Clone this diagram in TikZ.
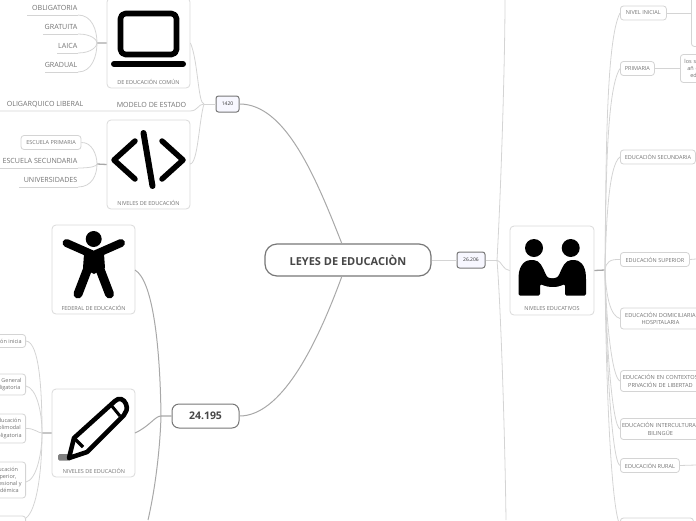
\documentclass[tikz,border=0pt]{standalone}
\usepackage{fontspec}
\setmainfont{Open Sans}
\definecolor{txt}{HTML}{727272}
\definecolor{lin}{HTML}{D4D4D4}
\definecolor{mid}{HTML}{A8A8A8}
\definecolor{edge}{HTML}{777777}
\tikzset{
 conn/.style={draw=lin,line width=.8pt},
 connm/.style={draw=mid,line width=1pt},
 conng/.style={draw=mid,line width=1.3pt},
 card/.style={draw=lin!85,line width=.8pt,rounded corners=4pt,fill=white,inner sep=0},
 leaf/.style={draw=lin,line width=.8pt,rounded corners=3pt,fill=white,inner sep=0,align=center,font=\fontsize{5.5}{7.2}\selectfont,text=txt},
 wideleaf/.style={leaf,anchor=west,text width=80pt,minimum height=21pt,font=\fontsize{5.6}{7.2}\selectfont},
 cutleaf/.style={leaf,inner xsep=4pt,anchor=east},
 plain/.style={inner sep=0,font=\fontsize{7.1}{8}\selectfont,text=txt},
 caplabel/.style={inner sep=0,font=\fontsize{5.5}{6}\selectfont,text=txt},
 topic/.style={draw=edge,line width=1pt,rounded corners=2.5pt,fill=blue!3,inner sep=0,font=\fontsize{5}{6}\selectfont,text=black!80},
 icon/.style={line width=5.6pt,line cap=round,line join=round,draw=black},
}
\begin{document}
\begin{tikzpicture}[x=1pt,y=-1pt]
\useasboundingbox (0,0) rectangle (696,520);
\clip (0,0) rectangle (696,520);
% coordinates
\coordinate (j1420) at (204,104);
\coordinate (jL1) at (97,43);
\coordinate (jL2) at (97,164);
\coordinate (j24) at (161,416);
\coordinate (jL3) at (42,433);
\coordinate (j26) at (497,260);
\coordinate (jR) at (605,270);
\coordinate (u1) at (27,15);\coordinate (u1b) at (78,15);
\coordinate (u2) at (43,34);\coordinate (u2b) at (78,34);
\coordinate (u3) at (57,53);\coordinate (u3b) at (78,53);
\coordinate (u4) at (45,72);\coordinate (u4b) at (78,72);
\coordinate (u5) at (0,168);\coordinate (u5b) at (78,168);
\coordinate (u6) at (19,187);\coordinate (u6b) at (78,187);
\coordinate (u7) at (0,111);\coordinate (u7b) at (190,111);
\coordinate (topend) at (505,0);
\coordinate (botend) at (506,520);
\coordinate (botL) at (148,520);
\coordinate (rs) at (696,259);
\coordinate (rr) at (696,465);
% cards
\node[card,minimum width=83pt,minimum height=90pt] (c1) at (148.5,43) {};
\node[card,minimum width=83pt,minimum height=89pt] (c2) at (148.5,164.5) {};
\node[card,minimum width=83pt,minimum height=89pt] (c3) at (93.5,269.5) {};
\node[card,minimum width=83pt,minimum height=88pt] (c4) at (93.5,433) {};
\node[card,minimum width=84pt,minimum height=89pt] (c5) at (552,270.5) {};
\node[caplabel] (c1l) at (148.5,82) {DE EDUCACIÓN COMÚN};
\node[caplabel] (c2l) at (148.5,203) {NIVELES DE EDUCACIÓN};
\node[caplabel] (c3l) at (93.5,308) {FEDERAL DE EDUCACIÓN};
\node[caplabel] (c4l) at (94,471) {NIVELES DE EDUCACIÓN};
\node[caplabel] (c5l) at (552,309) {NIVELES EDUCATIVOS};
% main
\node[draw=edge,line width=1.2pt,rounded corners=12pt,fill=white,minimum width=166pt,minimum height=32pt,inner sep=0,font=\fontsize{11}{12}\bfseries\selectfont,text=black!72] (main) at (348,260) {LEYES DE EDUCACIÒN};
\node[draw=edge,line width=1pt,rounded corners=7pt,fill=white,minimum width=67pt,minimum height=24pt,inner sep=0,font=\fontsize{10.5}{12}\bfseries\selectfont,text=black!72] (t24) at (205.5,416) {24.195};
\node[topic,minimum width=23pt,minimum height=16pt] (t14) at (227.5,104) {1420};
\node[topic,minimum width=28pt,minimum height=16pt] (t26) at (471,260) {26.206};
% plain texts
\node[plain,anchor=east] (o1) at (77.5,7.5) {OBLIGATORIA};
\node[plain,anchor=east] (o2) at (77.5,26.5) {GRATUITA};
\node[plain,anchor=east] (o3) at (77.5,45.5) {LAICA};
\node[plain,anchor=east] (o4) at (77.5,64.5) {GRADUAL};
\node[plain] (m1) at (151.5,104.5) {MODELO DE ESTADO};
\node[plain] (m2) at (45,104.5) {OLIGARQUICO LIBERAL};
\node[plain,anchor=east] (e2) at (77.5,160.5) {ESCUELA SECUNDARIA};
\node[plain,anchor=east] (e3) at (77.5,179.5) {UNIVERSIDADES};
\node[leaf,minimum width=60pt,minimum height=14pt] (e1) at (51,142.5) {ESCUELA PRIMARIA};
% left lower leaves
\node[cutleaf,minimum height=13pt] (l1) at (26,341) {Educación inicia};
\node[cutleaf,minimum height=21pt] (l2) at (26,384.5) {Educación General\\Básica obligatoria};
\node[cutleaf,minimum height=29pt] (l3) at (26,428.5) {Educación\\Polimodal\\obligatoria};
\node[cutleaf,minimum height=36pt] (l4) at (26,480) {Educación\\superior,\\profesional y\\académica};
\node[leaf,minimum width=60pt,minimum height=20pt,anchor=east] (l5) at (26,526) {};
% right leaves
\node[leaf,anchor=west,minimum width=46pt,minimum height=14pt] (r1) at (620,13) {NIVEL INICIAL};
\node[leaf,anchor=west,minimum width=34pt,minimum height=14pt] (r2) at (620,68.5) {PRIMARIA};
\node[leaf,anchor=west,minimum width=75pt,minimum height=14pt] (r3) at (620,157) {EDUCACIÓN SECUNDARIA};
\node[leaf,anchor=west,minimum width=69pt,minimum height=14pt] (r4) at (620,259.5) {EDUCACIÓN SUPERIOR};
\node[wideleaf] (r5) at (620,318.5) {EDUCACIÓN DOMICILIARIA\\HOSPITALARIA};
\node[wideleaf] (r6) at (620,381) {EDUCACIÓN EN CONTEXTOS\\PRIVACIÓN DE LIBERTAD};
\node[wideleaf] (r7) at (620,429) {EDUCACIÓN INTERCULTURAL\\BILINGÜE};
\node[leaf,anchor=west,minimum width=59pt,minimum height=14pt] (r8) at (620,465.5) {EDUCACIÓN RURAL};
\node[leaf,anchor=west,minimum width=73pt,minimum height=14pt] (r9) at (620,525) {};
\node[leaf,anchor=west,minimum width=40pt,minimum height=55pt] (n1) at (691,19) {};
\node[leaf,anchor=west,minimum width=40pt,minimum height=28pt,align=left,text width=40pt] (n2) at (680,68.5) {\hspace*{4pt}los s\\\hspace*{7pt}añ c\\\hspace*{10pt}ed};
% connectors
\path[conng] (jL1) -- (c1.west) (jL2) -- (c2.west) (jL3) -- (c4.west) (j24) -- (t24.west);
\path[conng] (c5.east) -- (jR);
\path[conn] (t14.west) -- (j1420);
\path[conn] (j1420) .. controls (198,104) and (198,60) .. (c1.east |- 0,43);
\path[conn] (j1420) .. controls (199,120) and (198,164) .. (190,164);
\path[conn] (j1420) .. controls (198,104) and (198,111) .. (u7b) -- (u7);
\path[connm] (t14.east) .. controls (285,104) and (315,175) .. (342,244);
\path[connm] (t24.east) .. controls (280,416) and (315,350) .. (342,276);
\path[conn] (main.east) -- (t26.west);
\path[conn] (t26.east) -- (j26);
\path[conn] (j26) .. controls (502,262) and (503,270) .. (c5.west);
\path[conn] (j26) .. controls (501,190) and (505,60) .. (topend);
\path[conn] (j26) .. controls (501,310) and (505,440) .. (botend);
\path[connm] (j24) .. controls (155,416) and (150,426) .. (135,433);
\path[connm] (j24) .. controls (160,340) and (152,280) .. (135,270);
\path[connm] (j24) .. controls (160,450) and (155,490) .. (botL);
\foreach \a/\b in {u1b/u1,u2b/u2,u3b/u3,u4b/u4,u5b/u5,u6b/u6}{\path[conn] (\a) -- (\b);}
\path[conn] (jL1) .. controls (97,30) and (92,15) .. (u1b);
\path[conn] (jL1) .. controls (97,40) and (92,34) .. (u2b);
\path[conn] (jL1) .. controls (97,46) and (92,53) .. (u3b);
\path[conn] (jL1) .. controls (97,56) and (92,72) .. (u4b);
\path[conn] (jL2) .. controls (97,155) and (92,142) .. (e1.east);
\path[conn] (jL2) .. controls (97,166) and (92,168) .. (u5b);
\path[conn] (jL2) .. controls (97,175) and (92,187) .. (u6b);
\path[conn] (jL3) .. controls (42,395) and (40,342) .. (l1.east);
\path[conn] (jL3) .. controls (42,410) and (36,388) .. (26,386);
\path[conn] (jL3) .. controls (38,433) and (34,428) .. (l3.east);
\path[conn] (jL3) .. controls (42,455) and (36,480) .. (26,482);
\path[conn] (jL3) .. controls (42,470) and (37,510) .. (26,518);
\path[conn] (jR) .. controls (606,160) and (606,40) .. (r1.west);
\path[conn] (jR) .. controls (606,190) and (606,90) .. (r2.west);
\path[conn] (jR) .. controls (606,230) and (608,165) .. (r3.west);
\path[conn] (jR) .. controls (606,262) and (610,259) .. (r4.west);
\path[conn] (jR) .. controls (606,295) and (610,316) .. (r5.west);
\path[conn] (jR) .. controls (606,320) and (612,378) .. (r6.west);
\path[conn] (jR) .. controls (606,340) and (612,426) .. (r7.west);
\path[conn] (jR) .. controls (606,360) and (612,462) .. (r8.west);
\path[conn] (jR) .. controls (606,400) and (612,512) .. (r9.west);
\path[conn] (r1.east) -- (n1.west |- r1.east);
\path[conn] (r2.east) -- (n2.west);
\path[conn] (r4.east) -- (rs);
\path[conn] (r8.east) -- (rr);
% laptop
\draw[icon] (120.5,13.5) [rounded corners=5pt] rectangle (176.5,54.5);
\draw[icon,line width=6pt] (114,64) -- (183,64);
% code
\draw[icon,line width=5.5pt] (135,141) -- (114,160) -- (135,179);
\draw[icon,line width=5.5pt] (162,141) -- (183,160) -- (162,179);
\draw[icon,line width=6pt] (143.5,133) -- (152.5,186);
% person
\fill (93.7,239) circle (8);
\draw[icon,line width=8pt] (66.5,243) -- (93.7,255) -- (121,243);
\fill (84,254) -- (104,254) -- (105,268) -- (94,274) -- (83,268) -- cycle;
\draw[icon,line width=9pt] (88,268) -- (78,294);
\draw[icon,line width=9pt] (99.5,268) -- (109.5,294);
% pencil
\fill[gray,rounded corners=1.5pt] (58,454) rectangle (71,460.5);
\draw[icon,line width=4.6pt,line cap=butt,line join=round] (69,458) -- (74,438) -- (115,401)
  .. controls (119,397) and (124,399) .. (126,404)
  .. controls (128,409) and (126,412) .. (124,415)
  -- (87,452) -- cycle;
\draw[icon,line width=3.5pt,line cap=butt] (74,438) -- (83,447);
\draw[icon,line width=3pt,line cap=butt] (111,405) -- (120,416);
% handshake
\fill (534,248) circle (9);
\fill (570.7,248) circle (9);
\fill[rounded corners=1.5pt] (518.5,295.7) -- (518.5,278) .. controls (519,264) and (526,260) .. (532,260) .. controls (540,260) and (543,268) .. (546,275) .. controls (548,278) and (552,279) .. (556,278) -- (558,286) .. controls (550,288) and (545,286) .. (540,284) -- (540,295.7) -- cycle;
\fill[rounded corners=1.5pt] (586,295.7) -- (586,278) .. controls (585.5,264) and (579,260) .. (573,260) .. controls (565,260) and (562,268) .. (559,275) .. controls (557,278) and (552,279) .. (548,278) -- (548,286) .. controls (556,288) and (560,286) .. (565,284) -- (565,295.7) -- cycle;
\end{tikzpicture}
\end{document}
